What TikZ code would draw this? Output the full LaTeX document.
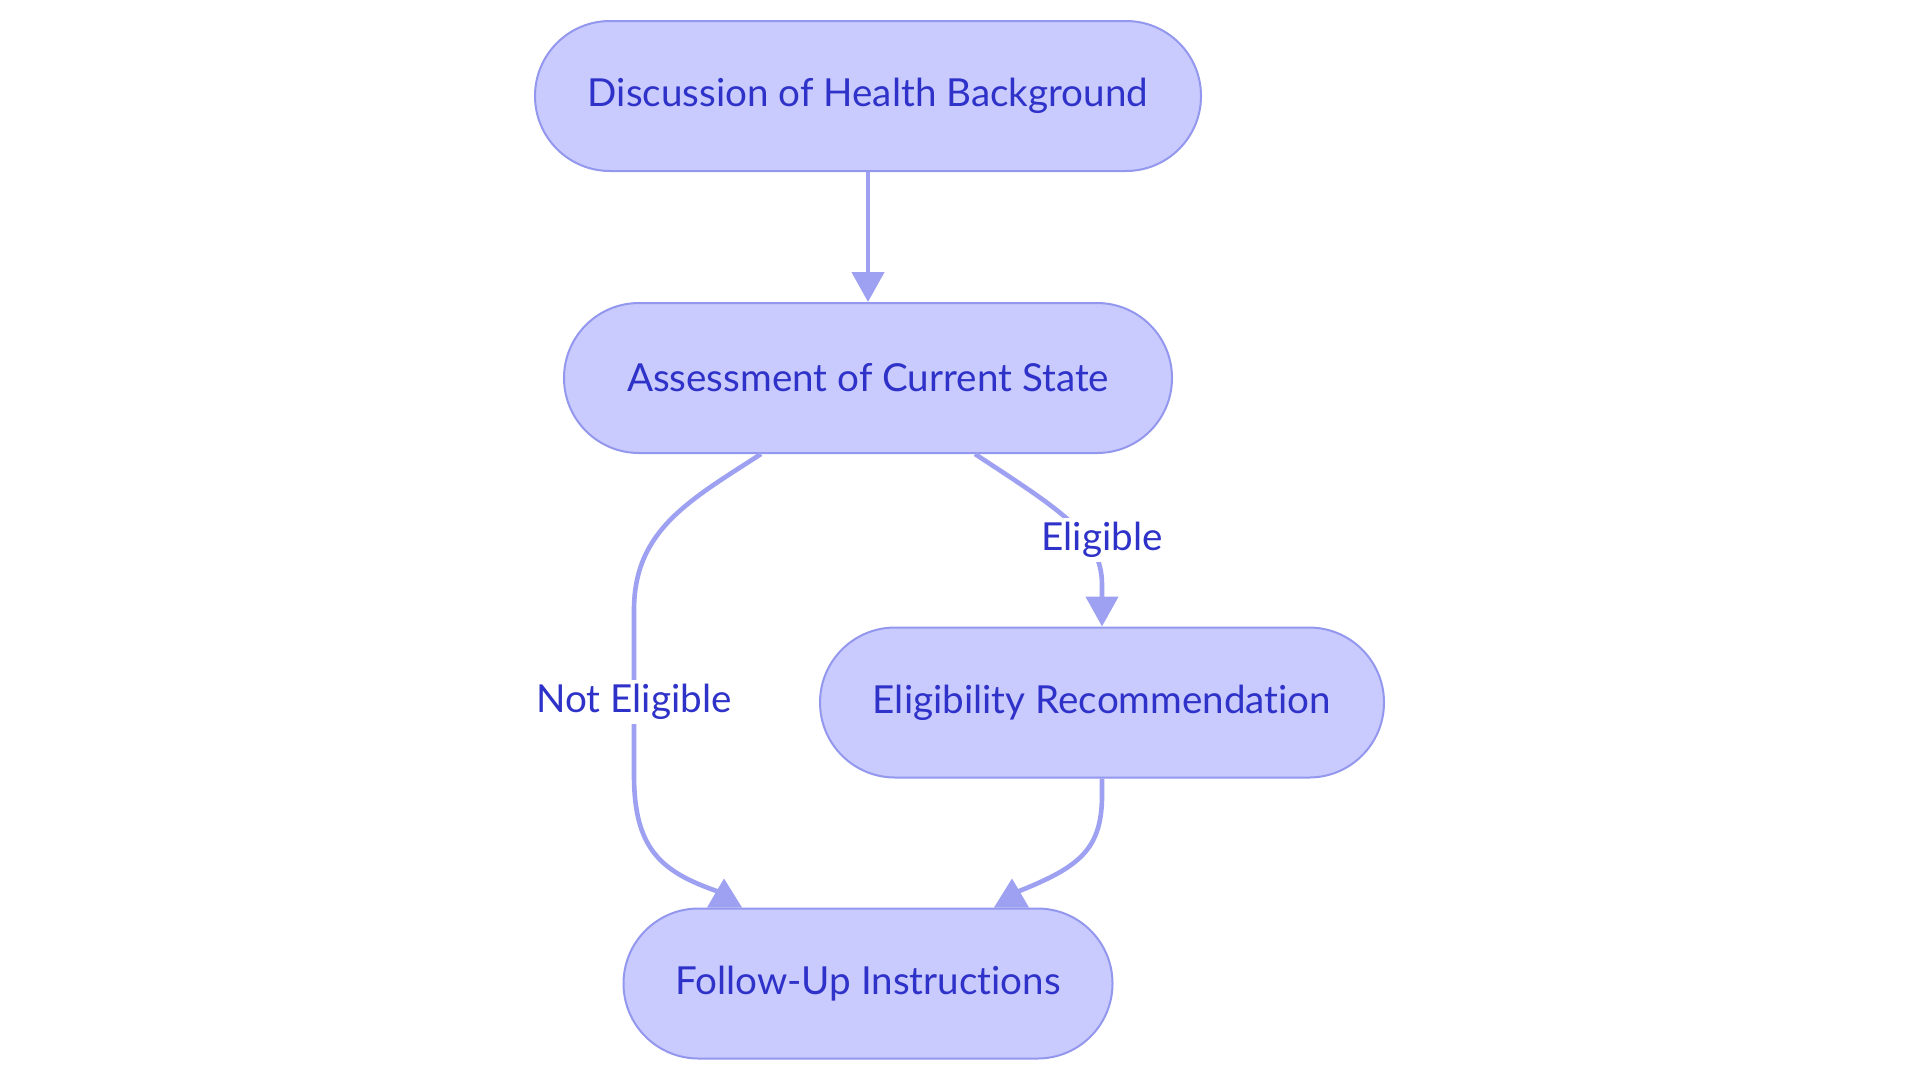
\documentclass[tikz,border=0pt]{standalone}
\usepackage{fontspec}
\setmainfont{Lato}[RawFeature={-liga;-dlig}]
\usetikzlibrary{arrows.meta,calc}
\definecolor{nodefill}{RGB}{201,202,253}
\definecolor{nodeline}{RGB}{147,152,238}
\definecolor{txtblue}{RGB}{46,50,200}
\definecolor{edgecol}{RGB}{158,161,241}
\begin{document}
\begin{tikzpicture}[x=0.5pt,y=-0.5pt,
  stadium/.style={draw=nodeline, fill=nodefill, line width=1pt, rounded corners=37.5pt,
    minimum height=75pt, text=txtblue, font=\fontsize{19.3}{23}\selectfont, inner sep=0pt},
  conn/.style={draw=edgecol, line width=2.3pt},
  arr/.style={-{Triangle[length=15pt,width=16pt]}},
  lbl/.style={fill=white, text=txtblue, font=\fontsize{19.3}{23}\selectfont, inner sep=2pt},
  headtri/.style={fill=edgecol}]
\useasboundingbox (0,0) rectangle (1920,1083);
\fill[white] (0,0) rectangle (1920,1083);

\node[stadium, minimum width=333pt] (n1) at (868,96) {Discussion of Health Background};
\node[stadium, minimum width=304pt] (n2) at (868,378) {Assessment of Current State};
\node[stadium, minimum width=282pt] (n3) at (1102,702.5) {Eligibility Recommendation};
\node[stadium, minimum width=244.5pt] (n4) at (868,983.5) {Follow-Up Instructions};

\coordinate (t1) at ($(n4.north)+(-150,-16)$);
\coordinate (t2) at ($(n4.north)+(150,-16)$);

% Discussion -> Assessment
\draw[conn,arr] (n1.south) -- (n2.north);

% Assessment -> Eligibility (Eligible)
\draw[conn,arr] ($(n2.south)+(107,0)$) .. controls (1060,510) and (1102,535) .. (1102,585) -- (n3.north);
\node[lbl] (le) at (1102,540) {Eligible};

% Assessment -> Follow-Up (Not Eligible)
\draw[conn] ($(n2.south)+(-107,0)$) .. controls (690,500) and (634,530) .. (634,610)
  -- (634,775) .. controls (634,850) and (662,872) .. (t1);
\node[lbl] (lne) at (634,702) {Not Eligible};

% Eligibility -> Follow-Up
\draw[conn] (n3.south) -- ++(0,12) .. controls (1103,848) and (1082,866) .. (t2);

% arrowheads as drawn in the reference
\fill[headtri] ($(n4.north)+(-161,0)$) -- ($(n4.north)+(-144,-29)$) -- ($(n4.north)+(-126,0)$) -- cycle;
\fill[headtri] ($(n4.north)+(126,0)$) -- ($(n4.north)+(144,-29)$) -- ($(n4.north)+(161,0)$) -- cycle;
\end{tikzpicture}
\end{document}
